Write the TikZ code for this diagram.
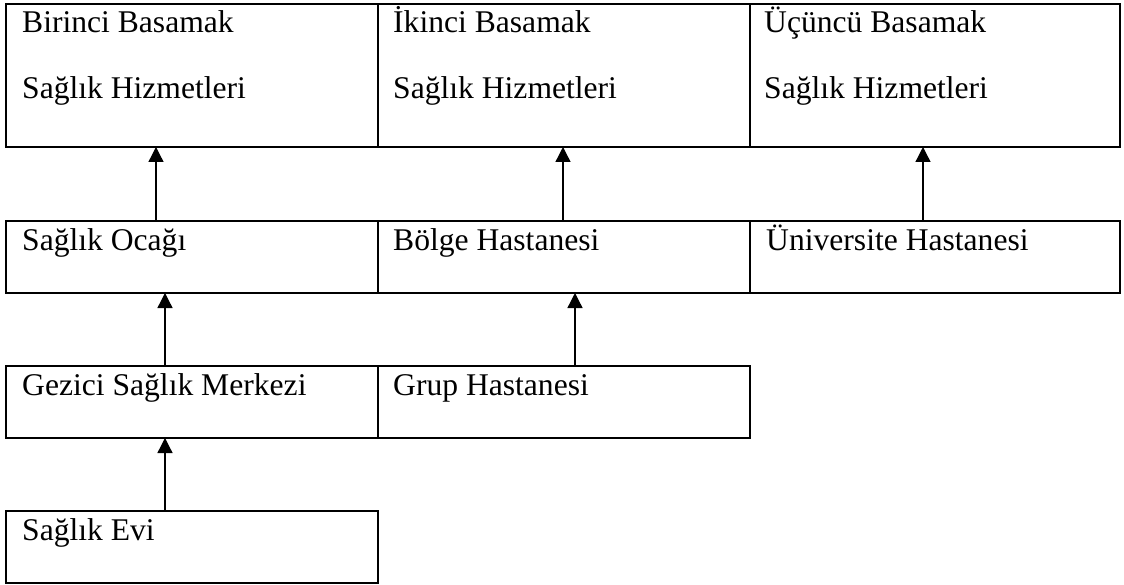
\documentclass[tikz,border=0pt]{standalone}
\usepackage{fontspec}
\setmainfont{Liberation Serif}
\usetikzlibrary{arrows.meta}
\begin{document}
\begin{tikzpicture}[x=1pt, y=-1pt,
  cell/.style={draw, rectangle, line width=1.6pt, inner sep=0pt, outer sep=0pt,
               anchor=north west, minimum height=#1},
  cell/.default=72pt,
  lbl/.style={anchor=base west, inner sep=0pt, font=\fontsize{31.6}{36}\selectfont},
  uparr/.style={-{Triangle[width=15pt,length=15pt]}, line width=1.3pt}]
\useasboundingbox (0,0) rectangle (1124,585);

% top row: levels of care
\node[cell=143pt, minimum width=372pt] (lvlA) at (6,4) {};
\node[cell=143pt, minimum width=372pt] (lvlB) at (378,4) {};
\node[cell=143pt, minimum width=370pt] (lvlC) at (750,4) {};
\node[lbl] (lvlAa) at ([shift={(16pt,-29pt)}]lvlA.north west) {Birinci Basamak};
\node[lbl] (lvlAb) at ([shift={(16pt,-95pt)}]lvlA.north west) {Sağlık Hizmetleri};
\node[lbl] (lvlBa) at ([shift={(15pt,-29pt)}]lvlB.north west) {İkinci Basamak};
\node[lbl] (lvlBb) at ([shift={(15pt,-95pt)}]lvlB.north west) {Sağlık Hizmetleri};
\node[lbl] (lvlCa) at ([shift={(14pt,-29pt)}]lvlC.north west) {Üçüncü Basamak};
\node[lbl] (lvlCb) at ([shift={(14pt,-95pt)}]lvlC.north west) {Sağlık Hizmetleri};

% second row
\node[cell, minimum width=372pt] (ocak) at (6,221) {};
\node[cell, minimum width=372pt] (bolge) at (378,221) {};
\node[cell, minimum width=370pt] (univ) at (750,221) {};
\node[lbl] (ocakT) at ([shift={(16pt,-30pt)}]ocak.north west) {Sağlık Ocağı};
\node[lbl] (bolgeT) at ([shift={(15pt,-30pt)}]bolge.north west) {Bölge Hastanesi};
\node[lbl] (univT) at ([shift={(16pt,-30pt)}]univ.north west) {Üniversite Hastanesi};

% third row
\node[cell, minimum width=372pt] (gezici) at (6,366) {};
\node[cell, minimum width=372pt] (grup) at (378,366) {};
\node[lbl] (geziciT) at ([shift={(16pt,-29pt)}]gezici.north west) {Gezici Sağlık Merkezi};
\node[lbl] (grupT) at ([shift={(15pt,-29pt)}]grup.north west) {Grup Hastanesi};

% bottom row
\node[cell, minimum width=372pt] (ev) at (6,511) {};
\node[lbl] (evT) at ([shift={(16pt,-29pt)}]ev.north west) {Sağlık Evi};

% upward links
\draw[uparr] ([xshift=150pt]ocak.north west) -- ([xshift=150pt]lvlA.south west);
\draw[uparr] ([xshift=185pt]bolge.north west) -- ([xshift=185pt]lvlB.south west);
\draw[uparr] ([xshift=173pt]univ.north west) -- ([xshift=173pt]lvlC.south west);
\draw[uparr] ([xshift=159pt]gezici.north west) -- ([xshift=159pt]ocak.south west);
\draw[uparr] ([xshift=197pt]grup.north west) -- ([xshift=197pt]bolge.south west);
\draw[uparr] ([xshift=159pt]ev.north west) -- ([xshift=159pt]gezici.south west);
\end{tikzpicture}
\end{document}
